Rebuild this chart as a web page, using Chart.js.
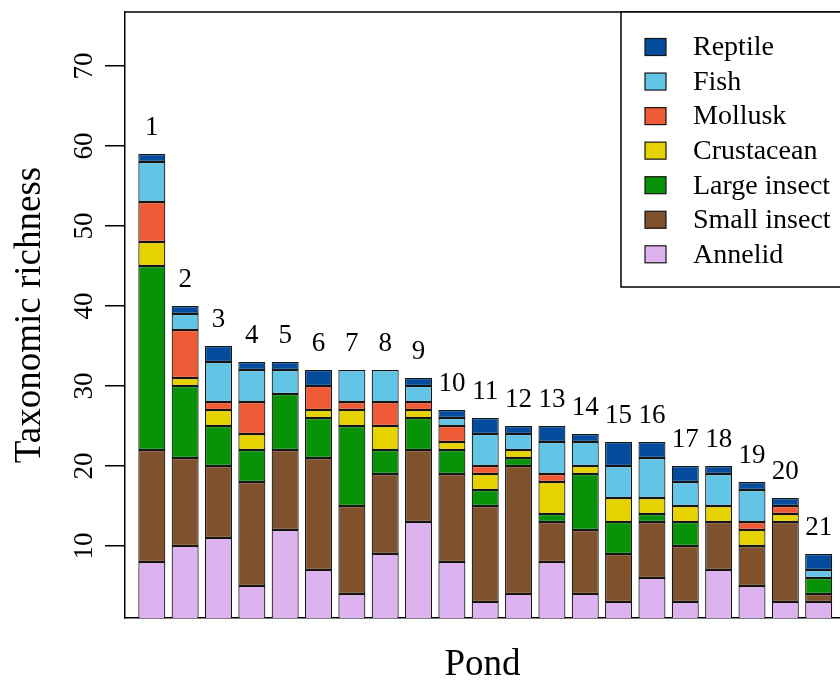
<!DOCTYPE html>
<html>
<head>
<meta charset="utf-8">
<script src="https://cdn.jsdelivr.net/npm/chart.js@4.4.1/dist/chart.umd.min.js"></script>
<style>
  html, body { margin: 0; padding: 0; background: #fff; }
  #wrap { width: 840px; height: 689px; position: relative; overflow: hidden; }
</style>
</head>
<body>
<div id="wrap"><canvas id="pondChart"></canvas></div>
<script>
/* ================= DATA ================= */
const ponds = ["1", "2", "3", "4", "5", "6", "7", "8", "9", "10", "11",
  "12", "13", "14", "15", "16", "17", "18", "19", "20", "21"];
const pondX = ponds.map((p, i) => i + 1);

const annelid     = [8, 10, 11, 5, 12, 7, 4, 9, 13, 8, 3, 4, 8, 4, 3, 6, 3, 7, 5, 3, 3];
const smallInsect = [14, 11, 9, 13, 10, 14, 11, 10, 9, 11, 12, 16, 5, 8, 6, 7, 7, 6, 5, 10, 1];
const largeInsect = [23, 9, 5, 4, 7, 5, 10, 3, 4, 3, 2, 1, 1, 7, 4, 1, 3, 0, 0, 0, 2];
const crustacean  = [3, 1, 2, 2, 0, 1, 2, 3, 1, 1, 2, 1, 4, 1, 3, 2, 2, 2, 2, 1, 0];
const mollusk     = [5, 6, 1, 4, 0, 3, 1, 3, 1, 2, 1, 0, 1, 0, 0, 0, 0, 0, 1, 1, 0];
const fish        = [5, 2, 5, 4, 3, 0, 4, 4, 2, 1, 4, 2, 4, 3, 4, 5, 3, 4, 4, 0, 1];
const reptile     = [1, 1, 2, 1, 1, 2, 0, 0, 1, 1, 2, 1, 2, 1, 3, 2, 2, 1, 1, 1, 2];

const groupNames = ["Annelid", "Small insect", "Large insect", "Crustacean", "Mollusk", "Fish", "Reptile"];
const groupValues = [annelid, smallInsect, largeInsect, crustacean, mollusk, fish, reptile];
const groupColors = ["#DCB3EE", "#7F512C", "#079208", "#E6D200", "#EF5B36", "#63C5E5", "#034C9B"];

const yTicks = [10, 20, 30, 40, 50, 60, 70];

/* ================= CONFIG ================= */
const SERIF = "'Liberation Serif', 'DejaVu Serif', serif";
Chart.defaults.font.family = SERIF;
Chart.defaults.color = "#000";

const datasets = groupNames.map((name, g) => ({
  label: name,
  data: pondX.map((x, i) => ({ x: x, y: groupValues[g][i] })),
  backgroundColor: groupColors[g],
  borderColor: "#151515",
  borderWidth: 1.2,
  borderSkipped: false,
  categoryPercentage: 1,
  barPercentage: 0.81,
}));

/* ================= PLUGINS ================= */
// top line of the plot box
const boxTop = {
  id: "boxTop",
  afterDraw(chart) {
    const { ctx, chartArea } = chart;
    ctx.save();
    ctx.strokeStyle = "#000";
    ctx.lineWidth = 1.5;
    ctx.beginPath();
    ctx.moveTo(chartArea.left, chartArea.top);
    ctx.lineTo(chartArea.right + 10, chartArea.top);
    ctx.stroke();
    ctx.restore();
  },
};

// pond number above each stack
const pondLabels = {
  id: "pondLabels",
  afterDatasetsDraw(chart) {
    const { ctx } = chart;
    const xs = chart.scales.x;
    const ys = chart.scales.y;
    ctx.save();
    ctx.font = "27px " + SERIF;
    ctx.fillStyle = "#000";
    ctx.textAlign = "center";
    ctx.textBaseline = "alphabetic";
    pondX.forEach((x, i) => {
      const total = groupValues.reduce((s, arr) => s + arr[i], 0);
      ctx.fillText(ponds[i], xs.getPixelForValue(x), ys.getPixelForValue(total) - 19);
    });
    ctx.restore();
  },
};

// legend box in top right corner
const boxLegend = {
  id: "boxLegend",
  afterDraw(chart) {
    const { ctx, chartArea } = chart;
    const left = 621, top = chartArea.top, bottom = 287;
    ctx.save();
    ctx.fillStyle = "#fff";
    ctx.fillRect(left, top, 300, bottom - top);
    ctx.strokeStyle = "#000";
    ctx.lineWidth = 1.5;
    ctx.strokeRect(left, top, 300, bottom - top);
    ctx.font = "28px " + SERIF;
    ctx.textBaseline = "middle";
    ctx.textAlign = "left";
    const items = chart.data.datasets.slice().reverse();
    items.forEach((ds, k) => {
      const cy = 47 + k * 34.55;
      ctx.fillStyle = ds.backgroundColor;
      ctx.fillRect(645, cy - 8.5, 21, 17);
      ctx.strokeStyle = "#151515";
      ctx.lineWidth = 1.2;
      ctx.strokeRect(645, cy - 8.5, 21, 17);
      ctx.fillStyle = "#000";
      ctx.fillText(ds.label, 693, cy + 1);
    });
    ctx.restore();
  },
};

/* ================= CHART ================= */
new Chart(document.getElementById("pondChart"), {
  type: "bar",
  data: { datasets },
  options: {
    responsive: true,
    maintainAspectRatio: false,
    animation: false,
    layout: { padding: { top: 12, right: 0, left: 0, bottom: 0 } },
    plugins: {
      legend: { display: false },
      tooltip: { enabled: false },
    },
    scales: {
      x: {
        type: "linear",
        stacked: true,
        offset: false,
        min: 0.196,
        max: 21.64,
        grid: { display: false },
        ticks: { display: false },
        border: { display: true, color: "#000", width: 1.5 },
        title: {
          display: true,
          text: "Pond",
          font: { size: 37, family: SERIF },
          color: "#000",
          padding: { top: 0, bottom: 2 },
        },
        afterFit: (s) => { s.height = 71; s.paddingLeft = 0; s.paddingRight = 0; },
      },
      y: {
        stacked: true,
        min: 1,
        max: 76.75,
        afterBuildTicks: (s) => { s.ticks = yTicks.map((v) => ({ value: v })); },
        grid: {
          drawOnChartArea: false,
          drawTicks: true,
          tickLength: 20,
          color: "#000",
          lineWidth: 1.5,
        },
        border: { display: true, color: "#000", width: 1.5 },
        ticks: {
          font: { size: 27, family: SERIF },
          color: "#000",
          minRotation: 90,
          maxRotation: 90,
          crossAlign: "center",
          padding: 7,
        },
        title: {
          display: true,
          text: "Taxonomic richness",
          font: { size: 37, family: SERIF },
          color: "#000",
          padding: { top: 8, bottom: 0 },
        },
        afterFit: (s) => { s.width = 125; s.paddingTop = 0; s.paddingBottom = 0; },
      },
    },
  },
  plugins: [boxTop, pondLabels, boxLegend],
});
</script>
</body>
</html>
